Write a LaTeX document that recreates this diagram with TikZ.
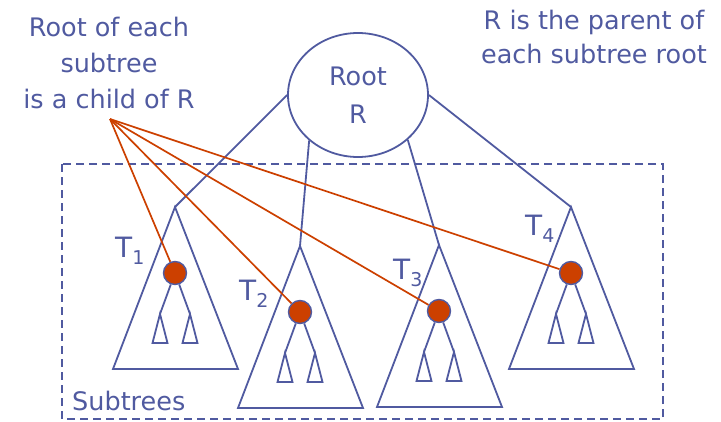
\documentclass[tikz,border=0pt]{standalone}
\usepackage{fontspec}
\setmainfont{DejaVu Sans}
\usetikzlibrary{shapes.geometric}

\definecolor{slate}{RGB}{80,90,160}
\definecolor{rust}{RGB}{204,64,0}

% T with a large subscript
\newcommand\tname[1]{T\raisebox{-7pt}{\fontsize{19}{19}\selectfont #1}}

\tikzset{edge/.style    = {draw=slate, line width=1.8pt},
         pointer/.style = {draw=rust, line width=1.7pt},
         frame/.style   = {draw=slate, line width=1.6pt, dash pattern=on 8pt off 5pt},
         note/.style    = {text=slate, align=center, inner sep=0pt,
                           font=\fontsize{25.5}{36}\selectfont},
         rootnode/.style = {ellipse, draw=slate, line width=1.8pt, minimum width=140pt,
                            minimum height=124pt, inner sep=0pt, text=slate, align=center,
                            font=\fontsize{25.5}{38}\selectfont},
         rootdot/.style = {circle, fill=rust, draw=slate, line width=1.4pt,
                           minimum size=23pt, inner sep=0pt},
         tlabel/.style  = {text=slate, inner sep=0pt, anchor=base west,
                           font=\fontsize{28}{28}\selectfont},
         subtree/.pic = {
           \coordinate (-top) at (0,0);
           \draw[edge] (-top) -- (-62,162) -- (63,162) -- cycle;
           \node[rootdot] (-root) at (0,66) {};
           \foreach \dx in {-15,15}{
             \draw[edge] (-root) -- (\dx,107);
             \draw[edge] (\dx,107) -- (\dx-7.5,136) -- (\dx+7.5,136) -- cycle;
           }
         }
        }

\begin{document}
\begin{tikzpicture}[x=1pt, y=-1pt]
  \useasboundingbox (0,0) rectangle (721,421);

  \draw[frame] (62,164) rectangle (663,419);
  \node[note, anchor=base west] (subtrees) at (72,410) {Subtrees};

  \node[rootnode] (R) at (358,95) {Root\\R};

  \pic (t1) at (175,207) {subtree};
  \pic (t2) at (300,246) {subtree};
  \pic (t3) at (439,245) {subtree};
  \pic (t4) at (571,207) {subtree};

  \node[tlabel] (n1) at (115,257) {\tname{1}};
  \node[tlabel] (n2) at (239,300) {\tname{2}};
  \node[tlabel] (n3) at (393,279) {\tname{3}};
  \node[tlabel] (n4) at (525,235) {\tname{4}};

  % parent edges
  \draw[edge] (R.west) -- (t1-top);
  \draw[edge] (R.223)  -- (t2-top);
  \draw[edge] (R.318)  -- (t3-top);
  \draw[edge] (R.east) -- (t4-top);

  % notes (base = last line)
  \node[note, anchor=base] (child) at (109,108) {Root of each\\subtree\\is a child of R};
  \node[note, anchor=base, font=\fontsize{25.5}{34}\selectfont] (parent) at (594,63)
    {R is the parent of\\each subtree root};

  \coordinate (hub) at (110,119);
  \foreach \t in {t1,t2,t3,t4}
    \draw[pointer] (hub) -- (\t-root);
\end{tikzpicture}
\end{document}
